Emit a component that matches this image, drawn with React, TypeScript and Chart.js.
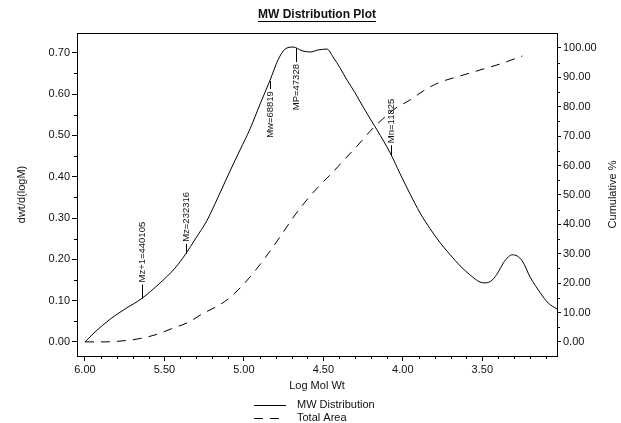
import React, { useEffect, useRef } from "react";
import { Chart, registerables } from "chart.js";

Chart.register(...registerables);

// ---- data ----
const X_TICKS = [6.0, 5.5, 5.0, 4.5, 4.0, 3.5];

const LOG_MW = [
  6.0, 5.937, 5.842, 5.747, 5.647, 5.527, 5.433, 5.37, 5.301, 5.231, 5.162,
  5.087, 5.024, 4.961, 4.898, 4.835, 4.785, 4.741, 4.69, 4.634, 4.583, 4.533,
  4.477, 4.439, 4.394, 4.351, 4.3, 4.25, 4.162, 4.08, 4.017, 3.954, 3.891,
  3.828, 3.765, 3.702, 3.639, 3.576, 3.514, 3.481, 3.437, 3.4, 3.368, 3.336,
  3.312, 3.28, 3.248, 3.199, 3.135, 3.085, 3.03,
];
const DWT = [
  0.0, 0.024, 0.055, 0.08, 0.104, 0.143, 0.179, 0.211, 0.252, 0.295, 0.351,
  0.414, 0.465, 0.516, 0.576, 0.634, 0.683, 0.709, 0.714, 0.705, 0.702, 0.707,
  0.709, 0.69, 0.663, 0.634, 0.603, 0.569, 0.513, 0.458, 0.407, 0.358, 0.312,
  0.274, 0.24, 0.211, 0.184, 0.162, 0.145, 0.143, 0.15, 0.169, 0.191, 0.206,
  0.211, 0.208, 0.196, 0.157, 0.119, 0.094, 0.08,
];

const AREA_LOG_MW = [
  6.0, 5.88, 5.766, 5.666, 5.559, 5.458, 5.345, 5.263, 5.188, 5.124, 5.062,
  4.961, 4.867, 4.773, 4.678, 4.583, 4.508, 4.439, 4.364, 4.287, 4.187, 4.112,
  4.043, 3.954, 3.872, 3.778, 3.639, 3.514, 3.388, 3.248,
];
const CUMULATIVE = [
  0.0, 0.0, 0.34, 1.02, 2.38, 4.42, 6.8, 9.52, 11.56, 13.61, 16.33, 22.11,
  28.57, 35.71, 43.2, 49.66, 54.08, 57.82, 62.24, 66.67, 72.79, 76.53, 79.59,
  82.31, 85.37, 88.1, 90.48, 92.52, 94.56, 97.28,
];

const MARKER_NAMES = ["Mz+1", "Mz", "Mw", "MP", "Mn"];
const MARKER_MW = [440105, 232316, 68819, 47328, 11825];

// ---- styles (not data) ----
const MARKER_STYLE = [
  { dir: "up", lead: 14 },
  { dir: "up", lead: 10 },
  { dir: "down", lead: 8 },
  { dir: "down", lead: 14 },
  { dir: "up", lead: 10 },
];
const FONT = "'Liberation Sans', Arial, Helvetica, sans-serif";
const INK = "#111";

function interp(xs: number[], ys: number[], x: number): number {
  for (let i = 0; i < xs.length - 1; i++) {
    const a = xs[i], b = xs[i + 1];
    if ((x <= a && x >= b) || (x >= a && x <= b)) {
      const t = (x - a) / (b - a || 1);
      return ys[i] + t * (ys[i + 1] - ys[i]);
    }
  }
  return ys[ys.length - 1];
}

const decorPlugin = {
  id: "decor",
  afterDatasetsDraw(chart: any) {
    const { ctx, chartArea: a, scales } = chart;
    const xs = scales.x, yl = scales.y, yr = scales.y2;
    ctx.save();
    ctx.strokeStyle = "#000";
    ctx.lineWidth = 1;
    ctx.setLineDash([]);
    // top border
    ctx.beginPath();
    ctx.moveTo(a.left, Math.round(a.top) + 0.5);
    ctx.lineTo(a.right, Math.round(a.top) + 0.5);
    ctx.stroke();

    // minor ticks
    ctx.beginPath();
    for (let i = 31; i < 60; i++) {
      if (i % 5 === 0) continue;
      const p = Math.round(xs.getPixelForValue(i / 10)) + 0.5;
      ctx.moveTo(p, a.bottom);
      ctx.lineTo(p, a.bottom + 3);
    }
    for (let i = 1; i < 15; i += 2) {
      const p = Math.round(yl.getPixelForValue(i * 0.05)) + 0.5;
      ctx.moveTo(a.left - 3, p);
      ctx.lineTo(a.left, p);
    }
    for (let i = 1; i < 21; i += 2) {
      const p = Math.round(yr.getPixelForValue(i * 5)) + 0.5;
      ctx.moveTo(a.right, p);
      ctx.lineTo(a.right + 3, p);
    }
    ctx.stroke();

    // average markers
    ctx.fillStyle = INK;
    ctx.font = `9.5px ${FONT}`;
    MARKER_NAMES.forEach((name, i) => {
      const xv = Math.log10(MARKER_MW[i]);
      const yv = interp(LOG_MW, DWT, xv);
      const px = Math.round(xs.getPixelForValue(xv)) + 0.5;
      const py = yl.getPixelForValue(yv);
      const st = MARKER_STYLE[i];
      const up = st.dir === "up";
      ctx.beginPath();
      ctx.moveTo(px, py);
      ctx.lineTo(px, up ? py - st.lead : py + st.lead);
      ctx.stroke();
      ctx.save();
      ctx.translate(px, up ? py - st.lead - 2 : py + st.lead + 2);
      ctx.rotate(-Math.PI / 2);
      ctx.textAlign = up ? "left" : "right";
      ctx.textBaseline = "middle";
      ctx.fillText(`${name}=${MARKER_MW[i]}`, 0, 0);
      ctx.restore();
    });
    ctx.restore();
  },
  afterDraw(chart: any) {
    const { ctx, chartArea: a } = chart;
    ctx.save();
    ctx.fillStyle = INK;
    ctx.strokeStyle = "#000";
    ctx.lineWidth = 1;
    // title
    const cx = (a.left + a.right) / 2;
    ctx.font = `bold 12px ${FONT}`;
    ctx.textAlign = "center";
    ctx.textBaseline = "middle";
    const title = "MW Distribution Plot";
    ctx.fillText(title, cx, 15);
    const tw = ctx.measureText(title).width;
    ctx.beginPath();
    ctx.moveTo(cx - tw / 2, 21.5);
    ctx.lineTo(cx + tw / 2, 21.5);
    ctx.stroke();

    // right axis title
    ctx.font = `11px ${FONT}`;
    ctx.save();
    ctx.translate(613, (a.top + a.bottom) / 2);
    ctx.rotate(-Math.PI / 2);
    ctx.textAlign = "center";
    ctx.textBaseline = "middle";
    ctx.fillText("Cumulative %", 0, 0);
    ctx.restore();

    // legend
    const ds = chart.data.datasets;
    const rows = [405, 418];
    ds.forEach((d: any, i: number) => {
      const y = rows[i] + 0.5;
      ctx.setLineDash(d.borderDash || []);
      ctx.beginPath();
      ctx.moveTo(254, y);
      ctx.lineTo(286, y);
      ctx.stroke();
      ctx.setLineDash([]);
      ctx.textAlign = "left";
      ctx.textBaseline = "middle";
      ctx.fillText(d.label, 297, rows[i]);
    });
    ctx.restore();
  },
};

export default function App() {
  const ref = useRef<HTMLCanvasElement | null>(null);
  useEffect(() => {
    if (!ref.current) return;
    Chart.defaults.font.family = FONT;
    Chart.defaults.font.size = 11;
    Chart.defaults.color = INK;
    const chart = new Chart(ref.current, {
      type: "line",
      data: {
        datasets: [
          {
            label: "MW Distribution",
            data: LOG_MW.map((x, i) => ({ x, y: DWT[i] })),
            yAxisID: "y",
            borderColor: "#000",
            borderWidth: 1,
            pointRadius: 0,
            cubicInterpolationMode: "monotone",
            fill: false,
          },
          {
            label: "Total Area",
            data: AREA_LOG_MW.map((x, i) => ({ x, y: CUMULATIVE[i] })),
            yAxisID: "y2",
            borderColor: "#000",
            borderWidth: 1,
            borderDash: [9, 7],
            pointRadius: 0,
            cubicInterpolationMode: "monotone",
            fill: false,
          },
        ],
      },
      options: {
        animation: false,
        responsive: false,
        devicePixelRatio: 1,
        layout: { padding: { top: 33, left: 0, right: 0, bottom: 0 } },
        plugins: {
          legend: { display: false },
          title: { display: false },
          tooltip: { enabled: false },
        },
        scales: {
          x: {
            type: "linear",
            reverse: true,
            min: 3.03,
            max: 6.05,
            afterBuildTicks: (s: any) => {
              s.ticks = X_TICKS.map((v) => ({ value: v }));
            },
            afterFit: (s: any) => {
              s.height = 67;
            },
            ticks: {
              autoSkip: false,
              maxRotation: 0,
              padding: 2,
              callback: (v: any) => Number(v).toFixed(2),
            },
            grid: { drawOnChartArea: false, tickLength: 5, color: "#000" },
            border: { color: "#000" },
            title: {
              display: true,
              text: "Log Mol Wt",
              padding: { top: 0, bottom: 30 },
            },
          },
          y: {
            type: "linear",
            position: "left",
            min: -0.034,
            max: 0.748,
            afterFit: (s: any) => {
              s.width = 77;
            },
            ticks: {
              stepSize: 0.1,
              includeBounds: false,
              padding: 2,
              callback: (v: any) => Number(v).toFixed(2),
            },
            grid: { drawOnChartArea: false, tickLength: 5, color: "#000" },
            border: { color: "#000" },
            title: {
              display: true,
              text: "dwt/d(logM)",
              padding: { top: 15, bottom: 0 },
            },
          },
          y2: {
            type: "linear",
            position: "right",
            min: -4.8,
            max: 105.1,
            afterFit: (s: any) => {
              s.width = 64;
            },
            ticks: {
              stepSize: 10,
              includeBounds: false,
              padding: 2,
              callback: (v: any) => Number(v).toFixed(2),
            },
            grid: { drawOnChartArea: false, tickLength: 4, color: "#000" },
            border: { color: "#000" },
          },
        },
      } as any,
      plugins: [decorPlugin],
    });
    return () => chart.destroy();
  }, []);
  return (
    <div
      style={{
        position: "fixed",
        left: 0,
        top: 0,
        width: 621,
        height: 423,
        background: "#fff",
      }}
    >
      <canvas ref={ref} width={621} height={423} />
    </div>
  );
}
